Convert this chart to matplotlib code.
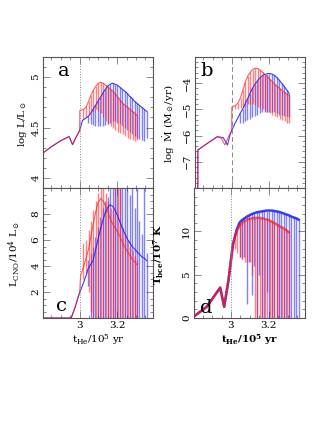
import numpy as np
import matplotlib
matplotlib.use("Agg")
import matplotlib.pyplot as plt
from matplotlib.ticker import MultipleLocator, FixedLocator, FixedFormatter

plt.rcParams['font.family'] = ['DejaVu Serif']
plt.rcParams['mathtext.fontset'] = 'dejavuserif'

RED = '#ff1a1a'
BLUE = '#1a1aff'

# pulse times (t_He / 1e5 yr)
red_t = [3.02, 3.034, 3.047, 3.06, 3.073, 3.086, 3.099, 3.112, 3.125, 3.138, 3.151, 3.164,
         3.177, 3.19, 3.203, 3.216, 3.229, 3.242, 3.255, 3.268, 3.281, 3.294, 3.305]
blue_t = [3.045, 3.058, 3.071, 3.084, 3.097, 3.11, 3.123, 3.136, 3.149, 3.162, 3.175, 3.188,
          3.201, 3.214, 3.227, 3.24, 3.253, 3.266, 3.279, 3.292, 3.305, 3.318, 3.331, 3.344, 3.357]

# panel a: log L
red_pre_a_x = [2.8, 2.85, 2.9, 2.944, 2.962, 2.98, 3.0, 3.001]
red_pre_a_y = [4.24, 4.31, 4.37, 4.41, 4.33, 4.40, 4.47, 4.67]
blue_pre_a_x = [2.8, 2.85, 2.9, 2.944, 2.962, 2.98, 3.0, 3.015, 3.03]
blue_pre_a_y = [4.24, 4.31, 4.37, 4.41, 4.33, 4.40, 4.47, 4.57, 4.59]
red_env_a = [4.68, 4.70, 4.76, 4.82, 4.87, 4.91, 4.94, 4.95, 4.94, 4.92, 4.90, 4.88,
             4.86, 4.83, 4.80, 4.77, 4.74, 4.72, 4.70, 4.68, 4.66, 4.64, 4.62]
red_lo_a = [4.58, 4.60, 4.62, 4.64, 4.66, 4.68, 4.66, 4.64, 4.60, 4.56, 4.54, 4.52,
            4.50, 4.48, 4.46, 4.45, 4.44, 4.42, 4.40, 4.39, 4.38, 4.37, 4.38]
blue_env_a = [4.61, 4.64, 4.68, 4.72, 4.76, 4.80, 4.84, 4.88, 4.91, 4.93, 4.94, 4.93,
              4.92, 4.90, 4.88, 4.86, 4.84, 4.81, 4.79, 4.76, 4.74, 4.72, 4.70, 4.68, 4.66]
blue_lo_a = [4.55, 4.54, 4.53, 4.52, 4.52, 4.52, 4.52, 4.53, 4.54, 4.55, 4.56, 4.56,
             4.55, 4.54, 4.52, 4.50, 4.48, 4.46, 4.44, 4.42, 4.40, 4.39, 4.38, 4.37, 4.40]

# panel b: log Mdot
red_pre_b_x = [2.82, 2.82, 2.87, 2.924, 2.945, 2.964, 2.985, 3.0, 3.001]
red_pre_b_y = [-8.0, -6.55, -6.3, -6.04, -6.1, -6.36, -6.0, -5.81, -4.91]
blue_pre_b_x = [2.82, 2.82, 2.87, 2.924, 2.955, 2.978, 2.99, 3.0, 3.02, 3.035]
blue_pre_b_y = [-8.0, -6.55, -6.3, -6.04, -6.08, -6.36, -6.0, -5.81, -5.5, -5.3]
red_env_b = [-4.85, -4.75, -4.55, -4.25, -3.95, -3.72, -3.58, -3.48, -3.43, -3.44, -3.50, -3.58,
             -3.67, -3.76, -3.85, -3.94, -4.03, -4.12, -4.20, -4.28, -4.35, -4.42, -4.46]
red_lo_b = [-5.0, -5.0, -4.95, -4.9, -4.85, -4.8, -4.8, -4.8, -4.85, -4.9, -4.95, -5.0,
            -5.05, -5.1, -5.15, -5.2, -5.25, -5.3, -5.35, -5.4, -5.45, -5.5, -5.5]
blue_env_b = [-5.15, -5.0, -4.8, -4.6, -4.4, -4.2, -4.05, -3.92, -3.8, -3.72, -3.67, -3.64,
              -3.63, -3.65, -3.7, -3.78, -3.88, -4.0, -4.12, -4.25, -4.38]
blue_lo_b = [-5.5, -5.5, -5.45, -5.4, -5.35, -5.3, -5.25, -5.2, -5.15, -5.1, -5.1, -5.1,
             -5.1, -5.1, -5.1, -5.15, -5.2, -5.2, -5.25, -5.25, -5.3]

# panel c: L_CNO / 1e4 Lsun
red_pre_c_x = [2.8, 2.955, 2.975, 2.996, 3.0, 3.005]
red_pre_c_y = [0, 0, 0.8, 1.8, 1.9, 3.3]
blue_pre_c_x = [2.8, 2.955, 2.975, 2.996, 3.02, 3.035]
blue_pre_c_y = [0, 0, 0.8, 1.8, 2.7, 3.3]
red_env_c = [3.9, 4.6, 5.3, 6.3, 7.3, 8.2, 8.9, 9.2, 9.0, 8.6, 8.1, 7.6,
             7.2, 6.9, 6.6, 6.2, 5.8, 5.4, 5.1, 4.8, 4.5, 4.3, 4.1]
red_hi_c = [5.8, 6.0, 6.8, 7.5, 8.3, 9.0, 9.6, 10.5, 10.5, 9.6, 9.0, 8.5,
            8.3, 10.5, 10.5, 10.5, 7.0, 6.5, 6.0, 5.5, 5.2, 4.8, 4.5]
red_lo_c = [3.0, 3.5, 2.0, 0.5, 0, 0, 0, 0, 0, 0, 0, 0,
            0, 0, 0, 0, 0, 0, 0, 0, 0, 0, 0]
blue_env_c = [3.8, 4.1, 4.4, 5.2, 6.0, 6.8, 7.5, 8.1, 8.5, 8.7, 8.6, 8.3,
              7.9, 7.4, 6.9, 6.5, 6.1, 5.8, 5.5, 5.3, 5.1, 4.9, 4.7, 4.6, 4.4]
blue_hi_c = [4.5, 5.0, 5.5, 6.2, 7.0, 7.8, 8.5, 9.0, 9.3, 10.5, 10.5, 10.5,
             10.5, 10.5, 10.5, 10.5, 10.5, 9.5, 10.5, 8.5, 10.5, 7.5, 6.5, 10.5, 5.0]
blue_lo_c = [2.5, 0, 0, 0, 0, 0, 0, 0, 0, 0, 0, 0,
             0, 0, 0, 0, 0, 0, 0, 0, 0, 0, 0, 0, 0]

# panel d: T_bce / 1e7 K
red_pre_d_x = [2.806, 2.872, 2.943, 2.964, 2.987, 3.0, 3.01]
red_pre_d_y = [0.2, 1.3, 3.5, 1.3, 4.4, 6.7, 8.4]
blue_pre_d_x = [2.806, 2.872, 2.943, 2.964, 2.987, 3.0, 3.01, 3.03]
blue_pre_d_y = [0.2, 1.3, 3.5, 1.3, 4.4, 6.7, 8.5, 10.2]
red_env_d = [9.3, 10.2, 10.7, 11.0, 11.2, 11.35, 11.45, 11.5, 11.55, 11.55, 11.55, 11.5,
             11.45, 11.35, 11.25, 11.1, 10.95, 10.8, 10.6, 10.45, 10.3, 10.1, 9.9]
red_lo_d = [8.0, 7.5, 7.0, 6.8, 6.5, 6.5, 6.5, 5.0, 0, 0, 0, 0,
            0, 0, 0, 0, 0, 0, 0, 0, 0, 0, 0]
blue_env_d = [11.0, 11.3, 11.5, 11.7, 11.85, 12.0, 12.1, 12.2, 12.25, 12.3, 12.35, 12.4,
              12.4, 12.4, 12.35, 12.3, 12.25, 12.15, 12.05, 11.95, 11.85, 11.7, 11.6, 11.5, 11.35]
blue_lo_d = [7.0, 6.8, 7.0, 1.6, 6.5, 2.7, 6.0, 0, 5.0, 0, 0, 3.0,
             0, 0, 0, 0, 0, 0, 0, 0, 0, 0, 0, 0, 0]

panels = {
    'a': dict(red=(red_pre_a_x, red_pre_a_y, red_env_a, red_lo_a, red_env_a),
              blue=(blue_pre_a_x, blue_pre_a_y, blue_env_a, blue_lo_a, blue_env_a)),
    'b': dict(red=(red_pre_b_x, red_pre_b_y, red_env_b, red_lo_b, red_env_b),
              blue=(blue_pre_b_x, blue_pre_b_y, blue_env_b, blue_lo_b, blue_env_b)),
    'c': dict(red=(red_pre_c_x, red_pre_c_y, red_env_c, red_lo_c, red_hi_c),
              blue=(blue_pre_c_x, blue_pre_c_y, blue_env_c, blue_lo_c, blue_hi_c)),
    'd': dict(red=(red_pre_d_x, red_pre_d_y, red_env_d, red_lo_d, red_env_d),
              blue=(blue_pre_d_x, blue_pre_d_y, blue_env_d, blue_lo_d, blue_env_d)),
}

fig = plt.figure(figsize=(3.32, 4.30), dpi=100)
W, H = 332, 430
boxes = {'a': (43, 57, 110, 131), 'b': (195, 57, 110, 131),
         'c': (43, 188, 110, 130), 'd': (194, 188, 111, 130)}
axes = {}
for k, (x0, y0, w, h) in boxes.items():
    axes[k] = fig.add_axes([x0 / W, 1 - (y0 + h) / H, w / W, h / H])

ylims = {'a': (3.9, 5.2), 'b': (-8, -3), 'c': (0, 10), 'd': (0, 15)}
ymaj = {'a': [4, 4.5, 5], 'b': [-7, -6, -5, -4], 'c': [2, 4, 6, 8], 'd': [0, 5, 10]}
ylab = {'a': ['4', '4.5', '5'], 'b': ['\u22127', '\u22126', '\u22125', '\u22124'],
        'c': ['2', '4', '6', '8'], 'd': ['0', '5', '10']}
ymin = {'a': 0.1, 'b': 0.2, 'c': 0.5, 'd': 1}
ylabels = {'a': r'$\log\,\mathrm{L/L_\odot}$',
           'b': r'$\log\ \dot{\mathrm{M}}\ (\mathrm{M_\odot/yr})$',
           'c': r'$\mathrm{L_{CNO}/10^4\ L_\odot}$',
           'd': r'$\mathbf{T_{bce}/10^7\ K}$'}
ylabpos = {'a': -0.13, 'b': -0.16, 'c': -0.18, 'd': -0.25}
letter_pos = {'a': (0.185, 0.895), 'b': (0.106, 0.89), 'c': (0.17, 0.09), 'd': (0.114, 0.08)}

for k, ax in axes.items():
    red = panels[k]['red']
    blue = panels[k]['blue']
    bt = blue_t[:len(blue[2])]
    # pulses
    ax.vlines(bt, blue[3], blue[4], colors=BLUE, alpha=0.55, lw=1.0)
    ax.vlines(red_t, red[3], red[4], colors=RED, alpha=0.55, lw=1.0)
    lw = 1.8 if k == 'd' else 0.8
    ax.plot(list(blue[0]) + bt, list(blue[1]) + list(blue[2]), color=BLUE, lw=lw, alpha=0.85)
    ax.plot(list(red[0]) + red_t, list(red[1]) + list(red[2]), color=RED, lw=lw, alpha=0.7)

    ax.axvline(3.0, color='#888888', lw=0.7, ls=(0, (5, 3)) if k == 'b' else ':')
    ax.set_xlim(2.805, 3.39)
    ax.set_ylim(*ylims[k])
    ax.xaxis.set_major_locator(FixedLocator([3.0, 3.2]))
    ax.xaxis.set_major_formatter(FixedFormatter(['3', '3.2']))
    ax.xaxis.set_minor_locator(MultipleLocator(0.05))
    ax.yaxis.set_major_locator(FixedLocator(ymaj[k]))
    ax.yaxis.set_major_formatter(FixedFormatter(ylab[k]))
    ax.yaxis.set_minor_locator(MultipleLocator(ymin[k]))
    ax.tick_params(which='both', direction='in', top=True, right=True,
                   color='#777777', width=0.6, labelsize=7.5, pad=2)
    ax.tick_params(which='major', length=5)
    ax.tick_params(which='minor', length=2.5)
    for s in ax.spines.values():
        s.set_color('#555555')
        s.set_linewidth(0.8)
    plt.setp(ax.get_yticklabels(), rotation=90, va='center')
    ax.set_ylabel(ylabels[k], fontsize=7.5)
    ax.yaxis.set_label_coords(ylabpos[k], 0.49)
    ax.text(letter_pos[k][0], letter_pos[k][1], k, transform=ax.transAxes,
            fontsize=14, ha='center', va='center')
    if k in ('a', 'b'):
        ax.tick_params(labelbottom=False)

axes['c'].set_xlabel(r'$\mathrm{t_{He}/10^5\ yr}$', fontsize=7.5, labelpad=2)
axes['d'].set_xlabel(r'$\mathbf{t_{He}/10^5\ yr}$', fontsize=7.5, labelpad=2)

fig.savefig('out.png', dpi=100)
